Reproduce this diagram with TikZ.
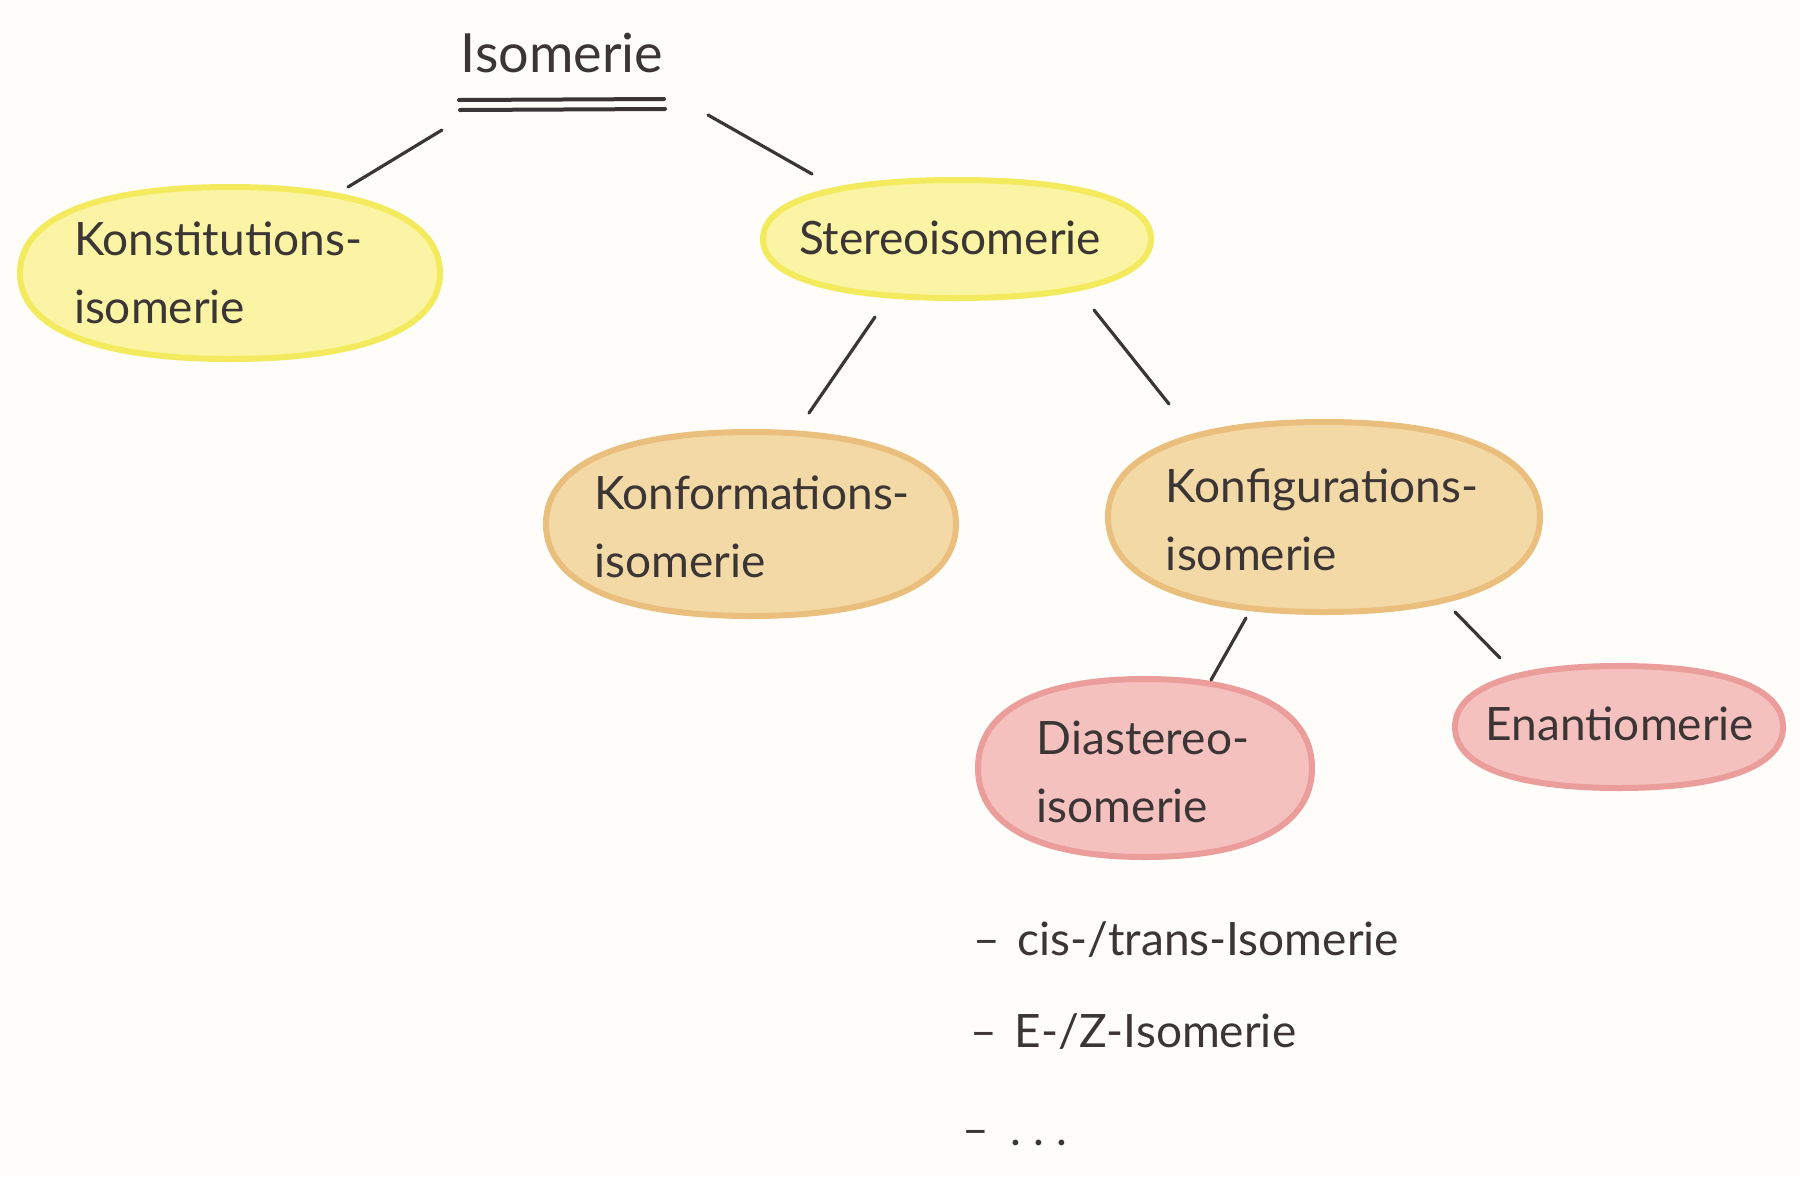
\documentclass[tikz,border=0pt]{standalone}
\usepackage{fontspec}
\setmainfont{Lato}
\definecolor{paper}{HTML}{FEFDF9}
\definecolor{ink}{HTML}{3B3535}
\definecolor{yfill}{HTML}{FAF4A4}
\definecolor{yedge}{HTML}{F4EA5E}
\definecolor{ofill}{HTML}{F3D9A6}
\definecolor{oedge}{HTML}{EABF7E}
\definecolor{rfill}{HTML}{F5C1BF}
\definecolor{redge}{HTML}{EA9D9B}
% squircle-like blob: cx, cy, rx, ry, colour prefix
\newcommand\mkblob[5]{%
  \filldraw[draw=#5edge, fill=#5fill, line width=6pt, line join=round]
   ({#1+#3},{#2}) .. controls ({#1+#3},{#2+0.64*#4}) and ({#1+0.64*#3},{#2+#4}) .. ({#1},{#2+#4})
   .. controls ({#1-0.64*#3},{#2+#4}) and ({#1-#3},{#2+0.64*#4}) .. ({#1-#3},{#2})
   .. controls ({#1-#3},{#2-0.64*#4}) and ({#1-0.64*#3},{#2-#4}) .. ({#1},{#2-#4})
   .. controls ({#1+0.64*#3},{#2-#4}) and ({#1+#3},{#2-0.64*#4}) .. cycle;}
\tikzset{
  btext/.style={text=ink, align=left, inner sep=0pt, font=\fontsize{46}{68}\selectfont},
  conn/.style={draw=ink, line width=3.2pt, line cap=round},
  lbl/.style={text=ink, anchor=base west, inner sep=0pt, font=\fontsize{46}{60}\selectfont}
}
\begin{document}
\begin{tikzpicture}[x=1pt,y=-1pt]
\fill[paper] (0,0) rectangle (1800,1176);
\useasboundingbox (0,0) rectangle (1800,1176);

% title
\node[text=ink, anchor=base, inner sep=0pt, font=\fontsize{54}{60}\selectfont] (title) at (562,72) {Isomerie};
\coordinate (u1a) at (459,100); \coordinate (u1b) at (664,99);
\coordinate (u2a) at (460,110); \coordinate (u2b) at (665,109);
\draw[conn, line width=4pt] (u1a) -- (u1b);
\draw[conn, line width=4pt] (u2a) -- (u2b);

% bubbles
\mkblob{230}{273}{210}{86}{y}
\mkblob{957}{239}{194}{59}{y}
\mkblob{751}{524}{205}{92}{o}
\mkblob{1324}{517}{216}{95}{o}
\mkblob{1145}{768}{167}{89}{r}
\mkblob{1619}{727}{164}{61}{r}

\node[btext] (konst) at (218,273) {Konstitutions-\\isomerie};
\node[btext] (stereo) at (950,238) {Stereoisomerie};
\node[btext] (konform) at (752,527) {Konformations-\\isomerie};
\node[btext] (konfig) at (1322,520) {Konfigurations-\\isomerie};
\node[btext] (dia) at (1143,772) {Diastereo-\\isomerie};
\node[btext] (enant) at (1620,724) {Enantiomerie};

% connector ends
\coordinate (t1) at (442,130); \coordinate (k1) at (348,187);
\coordinate (t2) at (708,115); \coordinate (s1) at (812,174);
\coordinate (s2) at (875,317); \coordinate (f1) at (809,413);
\coordinate (s3) at (1094,310); \coordinate (g1) at (1169,404);
\coordinate (g2) at (1246,618); \coordinate (d1) at (1211,680);
\coordinate (g3) at (1455,612); \coordinate (e1) at (1500,658);
\draw[conn] (t1) -- (k1);
\draw[conn] (t2) -- (s1);
\draw[conn] (s2) -- (f1);
\draw[conn] (s3) -- (g1);
\draw[conn] (g2) -- (d1);
\draw[conn] (g3) -- (e1);

% list
\node[lbl] (l1) at (973,955) {–\hspace{18pt}cis-/trans-Isomerie};
\node[lbl] (l2) at (970,1047) {–\hspace{18pt}E-/Z-Isomerie};
\node[lbl] (l3) at (962,1145) {–\hspace{22pt}.\hspace{12pt}.\hspace{12pt}.};
\end{tikzpicture}
\end{document}
